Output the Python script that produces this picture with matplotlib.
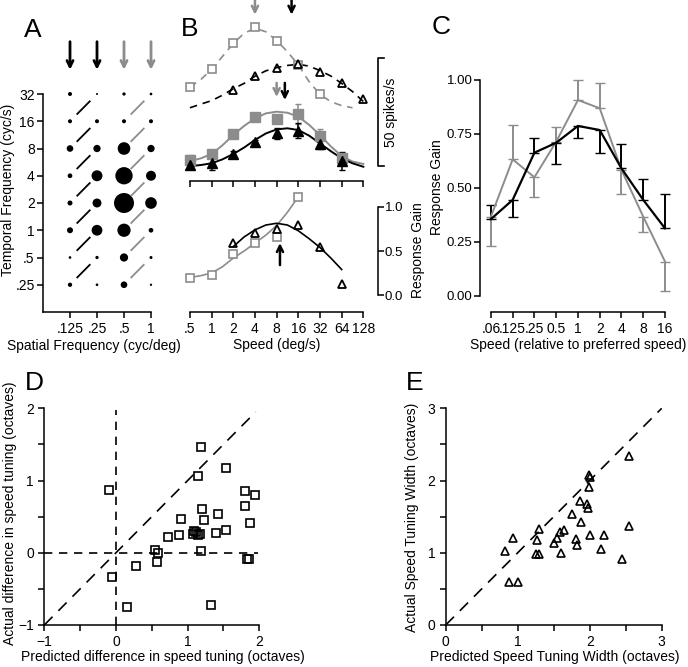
import matplotlib.pyplot as plt
from matplotlib.transforms import blended_transform_factory
import numpy as np

plt.rcParams['font.family'] = ['Liberation Sans', 'DejaVu Sans']
plt.rcParams['font.size'] = 10
plt.rcParams['axes.linewidth'] = 1.1
for a in ('xtick', 'ytick'):
    plt.rcParams[a + '.major.width'] = 1.1
    plt.rcParams[a + '.minor.width'] = 1.1
    plt.rcParams[a + '.major.size'] = 4
    plt.rcParams[a + '.minor.size'] = 4
    plt.rcParams[a + '.labelsize'] = 10

GRAY = '0.55'

# ---------------- data ----------------
# A: response (relative) for each temporal (rows) x spatial (cols) frequency
sf = [0.125, 0.25, 0.5, 1]
sf_labels = ['.125', '.25', '.5', '1']
tf = [0.25, 0.5, 1, 2, 4, 8, 16, 32]
tf_labels = ['.25', '.5', '1', '2', '4', '8', '16', '32']
resp_a = [
    [0.046, 0.018, 0.11, 0.013],
    [0.018, 0.027, 0.17, 0.0225],
    [0.09, 0.29, 0.44, 0.055],
    [0.0625, 0.20, 1.00, 0.34],
    [0.055, 0.30, 0.75, 0.25],
    [0.11, 0.133, 0.40, 0.133],
    [0.04, 0.04, 0.04, 0.04],
    [0.04, 0.01, 0.027, 0.018],
]
sf_arrow_colors = ['k', 'k', GRAY, GRAY]

# B: speed tuning (spikes/s)
speeds = [0.5, 1, 2, 4, 8, 16, 32, 64, 128]
speed_labels = ['.5', '1', '2', '4', '8', '16', '32', '64', '128']
open_sq = [43.7, 51.7, 64.0, 71.1, 65.0, 53.7, 40.1]           # .5 .. 32
open_tri = [42.1, 48.6, 52.2, 54.0, 50.6, 45.2, 37.8]          # 2 .. 128
fill_sq = [9.7, 12.5, 21.6, 29.8, 28.7, 31.0, 20.8, 10.8]      # .5 .. 64
fill_sq_err = [2.5, 1.5, 1.0, 1.5, 2.0, 4.6, 3.5, 2.0]
fill_tri = [7.4, 8.2, 12.5, 18.2, 22.0, 23.3, 17.0, 9.3]
fill_tri_err = [1.5, 3.0, 1.5, 1.0, 2.5, 3.5, 2.0, 4.0]

fit_x = [0.5, 0.71, 1, 1.41, 2, 2.83, 4, 5.66, 8, 11.3, 16, 22.6, 32, 45.3, 64, 90.5, 128]
fit_gray_dash = [43.5, 47.0, 51.7, 57.6, 63.7, 68.4, 70.7, 69.1, 65.0, 59.9, 53.7, 46.0,
                 40.1, 36.7, 34.9, 33.9]
fit_black_dash = [33.9, 35.6, 37.2, 39.7, 42.7, 45.2, 48.5, 51.0, 52.5, 53.5, 54.0, 53.2,
                  51.1, 48.6, 45.2, 41.4, 36.8]
fit_gray_solid = [9.2, 10.5, 12.5, 16.5, 21.3, 25.5, 29.0, 31.3, 32.1, 31.6, 29.8, 26.0,
                  21.3, 16.0, 11.6, 9.0, 7.9]
fit_black_solid = [6.9, 7.4, 8.2, 10.0, 12.5, 15.5, 19.0, 22.0, 23.9, 24.4, 23.6, 21.0,
                   17.4, 13.8, 10.5, 8.2, 6.6]

# B lower: response gain
gain_sq = [0.19, 0.227, 0.47, 0.59, 0.66, 1.11]                # .5 .. 16
gain_tri = [0.59, 0.70, 0.75, 0.79, 0.55, 0.125]               # 2 .. 64
gain_gray_x = [0.5, 0.71, 1, 1.41, 2, 2.83, 4, 5.66, 8, 11.3, 14.9]
gain_gray = [0.20, 0.22, 0.25, 0.32, 0.42, 0.50, 0.59, 0.68, 0.79, 0.94, 1.08]
gain_black_x = [2, 2.83, 4, 5.66, 8, 11.3, 16, 22.6, 32, 45.3, 64]
gain_black = [0.55, 0.66, 0.74, 0.795, 0.815, 0.795, 0.73, 0.64, 0.54, 0.42, 0.29]

# C: mean response gain vs relative speed
rel = [1 / 16, 1 / 8, 1 / 4, 1 / 2, 1, 2, 4, 8, 16]
rel_labels = ['.06', '.125', '.25', '0.5', '1', '2', '4', '8', '16']
c_gray = [0.366, 0.632, 0.549, 0.714, 0.907, 0.869, 0.583, 0.366, 0.158]
c_gray_lo = [0.136, 0, 0.09, 0, 0, 0, 0.113, 0.072, 0.136]
c_gray_hi = [0, 0.158, 0, 0.07, 0.093, 0.116, 0, 0, 0]
c_black = [0.355, 0.444, 0.663, 0.709, 0.787, 0.768, 0.590, 0.444, 0.312]
c_black_lo = [0, 0.081, 0, 0.1, 0.057, 0.105, 0, 0, 0]
c_black_hi = [0.065, 0, 0.067, 0, 0, 0, 0.113, 0.095, 0.159]

# D: predicted vs actual difference in speed tuning (octaves)
d_pred = [-0.10, -0.05, 0.15, 0.28, 0.54, 0.58, 0.57, 0.73, 0.88, 0.91, 1.08, 1.12, 1.14,
          1.17, 1.09, 1.19, 1.15, 1.20, 1.23, 1.19, 1.32, 1.42, 1.39, 1.53, 1.53, 1.80,
          1.80, 1.94, 1.87, 1.83, 1.85]
d_act = [0.87, -0.33, -0.75, -0.18, 0.04, 0.0, -0.13, 0.22, 0.245, 0.465, 0.254, 0.29,
         0.245, 0.254, 0.305, 1.46, 1.06, 0.61, 0.45, 0.02, -0.72, 0.535, 0.27, 0.32,
         1.18, 0.85, 0.65, 0.80, 0.415, -0.08, -0.09]

# E: predicted vs actual speed tuning width (octaves)
e_pred = [0.83, 0.94, 0.88, 1.00, 1.27, 1.29, 1.26, 1.29, 1.50, 1.55, 1.59, 1.64, 1.60,
          1.76, 1.81, 1.83, 1.88, 1.87, 1.96, 1.97, 1.99, 2.00, 1.99, 2.00, 2.20, 2.15,
          2.45, 2.55, 2.54]
e_act = [1.03, 1.21, 0.59, 0.59, 1.18, 1.33, 0.98, 0.98, 1.13, 1.21, 1.29, 1.31, 0.99,
         1.54, 1.19, 1.11, 1.42, 1.72, 1.67, 1.62, 2.08, 2.05, 1.91, 1.25, 1.25, 1.05,
         0.91, 2.34, 1.37]

# ---------------- figure ----------------
W, H = 688, 667
fig = plt.figure(figsize=(W / 100, H / 100), dpi=100)


def px_axes(x0, y0, x1, y1):
    return fig.add_axes([x0 / W, 1 - y1 / H, (x1 - x0) / W, (y1 - y0) / H])


def ftext(x, y, s, **kw):
    fig.text(x / W, 1 - y / H, s, **kw)


def clean(ax, keep=('left', 'bottom')):
    for side in ('left', 'right', 'top', 'bottom'):
        ax.spines[side].set_visible(side in keep)
    ax.patch.set_visible(False)


def down_arrow(ax, x, y0, y1, color, lw=1.8):
    ax.annotate('', xy=(x, y1), xytext=(x, y0), annotation_clip=False,
                arrowprops=dict(arrowstyle='->', color=color, lw=lw,
                                mutation_scale=11, shrinkA=0, shrinkB=0))


# ----- A -----
axA = px_axes(43, 94, 151, 312)
clean(axA)
axA.set_xscale('log', base=2)
axA.set_yscale('log', base=2)
axA.set_xlim(2 ** -4, 1)
axA.set_ylim(2 ** -3, 32)
SFg, TFg = np.meshgrid(sf, tf)
axA.scatter(SFg.ravel(), TFg.ravel(), s=np.array(resp_a).ravel() * 207, c='k',
            lw=0, clip_on=False)
for i, col in ((0, 'k'), (2, GRAY)):
    xm = np.sqrt(sf[i] * sf[i + 1])
    for j in range(len(tf) - 1):
        ym = np.sqrt(tf[j] * tf[j + 1])
        axA.plot([xm * 2 ** -0.23, xm * 2 ** 0.23], [ym * 2 ** -0.23, ym * 2 ** 0.23],
                 color=col, lw=1.3)
for x, col in zip(sf, sf_arrow_colors):
    down_arrow(axA, x, 2 ** 6.92, 2 ** 5.89, col, lw=2)
axA.set_xticks(sf)
axA.set_xticklabels(sf_labels)
axA.set_yticks(tf)
axA.set_yticklabels(tf_labels)
axA.tick_params(axis='y', pad=2)
axA.xaxis.set_minor_locator(plt.NullLocator())
axA.yaxis.set_minor_locator(plt.NullLocator())
ftext(94, 346, 'Spatial Frequency (cyc/deg)', ha='center', va='center')
ftext(8, 190, 'Temporal Frequency (cyc/s)', ha='center', va='center', rotation=90)

# ----- B (spike rates) -----
axB = px_axes(183, 0, 372, 181)
clean(axB, keep=('bottom',))
axB.set_xscale('log', base=2)
axB.set_xlim(2 ** -1.32, 2 ** 7.4)
axB.set_ylim(0, 83.8)
axB.spines['bottom'].set_bounds(speeds[0], speeds[-1])
axB.set_xticks(speeds)
axB.set_xticklabels([])
axB.xaxis.set_minor_locator(plt.NullLocator())
axB.set_yticks([])

dash = (0, (4.5, 3.5))
axB.plot(fit_x[:len(fit_gray_dash)], fit_gray_dash, color=GRAY, lw=1.2, ls=dash)
axB.plot(fit_x, fit_black_dash, color='k', lw=1.2, ls=dash)
axB.plot(speeds[:7], open_sq, ls='none', marker='s', ms=6, mfc='white', mec=GRAY, mew=1.2)
axB.plot(speeds[2:], open_tri, ls='none', marker='^', ms=6, mfc='none', mec='k', mew=1.3)

axB.plot(fit_x, fit_gray_solid, color=GRAY, lw=1.4)
axB.errorbar(speeds[:8], fill_sq, yerr=fill_sq_err, fmt='s', ms=6.5, color=GRAY,
             ecolor=GRAY, elinewidth=1.1, capsize=2.5)
axB.plot(fit_x, fit_black_solid, color='k', lw=1.4)
axB.errorbar(speeds[:8], fill_tri, yerr=fill_tri_err, fmt='^', ms=6.5, color='k',
             ecolor='k', elinewidth=1.1, capsize=2.5)

down_arrow(axB, 4, 84, 77, GRAY)
down_arrow(axB, 12.9, 84, 77, 'k')
down_arrow(axB, 8, 45.4, 38.9, GRAY)
down_arrow(axB, 10.4, 45.4, 37.5, 'k')

tb = blended_transform_factory(axB.transAxes, axB.transData)
axB.plot([1.063, 1.032, 1.032, 1.063], [57, 57, 7, 7], color='k', lw=1.2,
         transform=tb, clip_on=False)
axB.text(1.10, 32, '50 spikes/s', rotation=90, ha='center', va='center', transform=tb)

# ----- B (response gain) -----
axG = px_axes(183, 190, 372, 312)
clean(axG, keep=('bottom', 'right'))
axG.set_xscale('log', base=2)
axG.set_xlim(2 ** -1.32, 2 ** 7.4)
axG.set_ylim(-0.193, 1.193)
axG.spines['bottom'].set_bounds(speeds[0], speeds[-1])
axG.spines['right'].set_position(('axes', 1.032))
axG.spines['right'].set_bounds(0, 1)
axG.yaxis.tick_right()
axG.tick_params(axis='y', pad=1, labelsize=9.5)
axG.set_yticks([0, 0.5, 1])
axG.set_yticklabels(['0.0', '0.5', '1.0'])
axG.set_xticks(speeds)
axG.set_xticklabels(speed_labels)
axG.xaxis.set_minor_locator(plt.NullLocator())
axG.plot(gain_gray_x, gain_gray, color=GRAY, lw=1.2)
axG.plot(gain_black_x, gain_black, color='k', lw=1.2)
axG.plot(speeds[:6], gain_sq, ls='none', marker='s', ms=6, mfc='white', mec=GRAY,
         mew=1.2, clip_on=False)
axG.plot(speeds[2:8], gain_tri, ls='none', marker='^', ms=6, mfc='none', mec='k', mew=1.3)
axG.annotate('', xy=(8.9, 0.59), xytext=(8.9, 0.34),
             arrowprops=dict(arrowstyle='->', color='k', lw=1.8, mutation_scale=11,
                             shrinkA=0, shrinkB=0))
ftext(418, 250, 'Response Gain', ha='center', va='center', rotation=90)
ftext(277, 345, 'Speed (deg/s)', ha='center', va='center')

# ----- C -----
axC = px_axes(480, 80, 672, 312)
clean(axC)
axC.set_xscale('log', base=2)
axC.set_xlim(2 ** -4.5, 2 ** 4.32)
axC.set_ylim(-0.0756, 1.0)
axC.spines['left'].set_bounds(0, 1)
axC.spines['bottom'].set_bounds(rel[0], rel[-1])
axC.errorbar(rel, c_gray, yerr=[c_gray_lo, c_gray_hi], color=GRAY, lw=1.4,
             elinewidth=1.4, capsize=3.5, clip_on=False)
axC.errorbar(rel, c_black, yerr=[c_black_lo, c_black_hi], color='k', lw=1.6,
             elinewidth=1.4, capsize=3.5, clip_on=False)
axC.set_xticks(rel)
axC.set_xticklabels(rel_labels)
axC.xaxis.set_minor_locator(plt.NullLocator())
axC.set_yticks([0, 0.25, 0.5, 0.75, 1.0])
axC.set_yticklabels(['0.00', '0.25', '0.50', '0.75', '1.00'])
axC.tick_params(axis='y', pad=1.5, labelsize=9.5)
ftext(437, 187, 'Response Gain', ha='center', va='center', rotation=90)
ftext(578, 345, 'Speed (relative to preferred speed)', ha='center', va='center')

# ----- D -----
axD = px_axes(44.3, 408.3, 259.3, 625)
clean(axD)
axD.set_xlim(-1, 2)
axD.set_ylim(-1, 2)
axD.set_xticks([-1, 0, 1, 2])
axD.set_yticks([-1, 0, 1, 2])
axD.set_xticks([-0.5, 0.5, 1.5], minor=True)
axD.set_yticks([-0.5, 0.5, 1.5], minor=True)
axD.plot([-1, 1.95], [-1, 1.95], color='k', lw=1.2, ls=(0, (7, 5)))
axD.plot([-1, 1.98], [0, 0], color='k', lw=1.2, ls=(0, (5, 4)))
axD.plot([0, 0], [-1, 1.97], color='k', lw=1.2, ls=(0, (5, 4)))
axD.plot(d_pred, d_act, ls='none', marker='s', ms=5.5, mfc='none', mec='k', mew=1.2)
ftext(163, 657, 'Predicted difference in speed tuning (octaves)', ha='center', va='center')
ftext(10, 513, 'Actual difference in speed tuning (octaves)', ha='center', va='center',
      rotation=90)

# ----- E -----
axE = px_axes(445.7, 408.3, 661.7, 625)
clean(axE)
axE.set_xlim(0, 3)
axE.set_ylim(0, 3)
axE.set_xticks([0, 1, 2, 3])
axE.set_yticks([0, 1, 2, 3])
axE.set_xticks([0.5, 1.5, 2.5], minor=True)
axE.set_yticks([0.5, 1.5, 2.5], minor=True)
axE.plot([0, 3], [0, 3], color='k', lw=1.2, ls=(0, (7, 5)))
axE.plot(e_pred, e_act, ls='none', marker='^', ms=5.5, mfc='none', mec='k', mew=1.2)
ftext(555, 657, 'Predicted Speed Tuning Width (octaves)', ha='center', va='center')
ftext(412, 517, 'Actual Speed Tuning Width (octaves)', ha='center', va='center',
      rotation=90)

# panel letters
for letter, x, y in (('A', 33, 30), ('B', 190, 29), ('C', 441, 27), ('D', 34, 383),
                     ('E', 415, 383)):
    ftext(x, y, letter, ha='center', va='center', fontsize=19)

fig.savefig('out.png', dpi=100)
